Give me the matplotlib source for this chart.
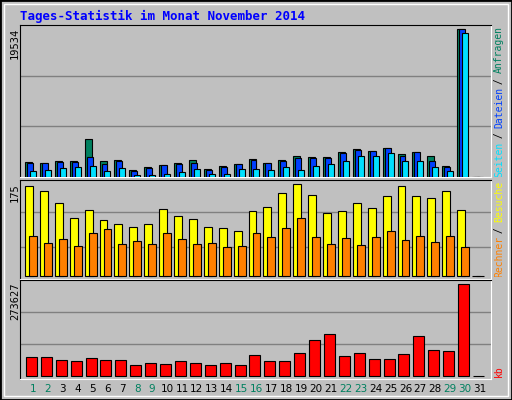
import matplotlib
matplotlib.use("Agg")
import matplotlib.pyplot as plt
import numpy as np
from matplotlib.patches import Rectangle
from matplotlib.transforms import Bbox, TransformedBbox

days = np.arange(1, 32)
weekend = [1, 2, 8, 9, 15, 16, 22, 23, 29, 30]

# top panel: Anfragen / Dateien / Seiten (days 1-30, day 31 no data)
hits_top = [484, 487, 481, 481, 415, 481, 478, 508, 499, 493, 487, 478, 505, 496, 490,
            475, 487, 478, 466, 469, 469, 454, 445, 451, 442, 460, 454, 466, 496, 88]
files_top = [487, 487, 484, 484, 469, 490, 481, 511, 502, 493, 490, 487, 508, 499, 490,
             478, 487, 481, 472, 472, 472, 457, 448, 451, 442, 466, 454, 481, 499, 88]
pages_top = [511, 508, 502, 499, 496, 511, 502, 523, 523, 520, 514, 505, 520, 520, 505,
             505, 508, 499, 508, 496, 490, 481, 466, 466, 457, 481, 481, 499, 511, 100]
hits = [round((530 - t) / 442 * 19534) for t in hits_top] + [0]
files = [round((530 - t) / 442 * 19534) for t in files_top] + [0]
pages = [round((530 - t) / 442 * 19534) for t in pages_top] + [0]

visits = [164, 155, 133, 106, 120, 102, 95, 90, 95, 122, 109, 104, 90, 88, 82,
          119, 126, 151, 168, 148, 115, 119, 133, 124, 145, 164, 145, 142, 155, 120, 0]
hosts = [73, 61, 68, 55, 79, 86, 59, 64, 59, 79, 68, 59, 61, 53, 55,
         79, 71, 88, 106, 71, 59, 70, 57, 71, 82, 66, 73, 62, 73, 53, 0]
kbytes = [57900, 57900, 48900, 45900, 54900, 48900, 48900, 34000, 39900, 36900,
          45900, 39900, 34000, 39900, 34000, 63900, 45900, 45900, 69900, 108800,
          123800, 60900, 69900, 51900, 51900, 66900, 117800, 78900, 75900, 273627, 0]

W, H = 512, 400
fig = plt.figure(figsize=(W / 100, H / 100), dpi=100, facecolor="#C0C0C0")
fig.patches.append(Rectangle((0, 0), 1, 1, transform=fig.transFigure, fill=False,
                             ec="black", lw=2))
fig.patches.append(Rectangle((4 / W, 4 / H), 1 - 8 / W, 1 - 8 / H, transform=fig.transFigure,
                             fill=False, ec="white", lw=1))


def mkax(y0, y1):
    ax = fig.add_axes([20 / W, 1 - y1 / H, 471 / W, (y1 - y0) / H], facecolor="#C0C0C0")
    ax.set_xlim(0.13, 31.74)
    ax.set_xticks([])
    ax.set_yticks([])
    for s in ("left", "top"):
        ax.spines[s].set_color("black")
    for s in ("right", "bottom"):
        ax.spines[s].set_color("white")
    return ax


mono = "DejaVu Sans Mono"
kw = dict(align="edge", ec="black", lw=0.8, zorder=3)

ax1 = mkax(25, 177)
ymax1 = 19534 * (530 - 75) / 442
ax1.set_ylim(0, ymax1)
for g in (1 / 3, 2 / 3):
    ax1.axhline(ymax1 * g, color="#808080", lw=1, zorder=1)
ax1.bar(days - 0.53, hits, 0.47, color="#00805F", **kw)
ax1.bar(days - 0.40, files, 0.40, color="#0040FF", **kw)
ax1.bar(days - 0.20, pages, 0.40, color="#00E0FF", **kw)

ax2 = mkax(180, 279)
ax2.set_ylim(-5, 175)
for g in (175 / 3 - 5, 2 * 175 / 3):
    ax2.axhline(g, color="#808080", lw=1, zorder=1)
ax2.bar(days - 0.53, visits, 0.53, color="#FFFF00", **kw)
ax2.bar(days - 0.26, hosts, 0.53, color="#FF8000", **kw)

ax3 = mkax(280, 379)
ymax3 = 273627 * (602 - 316) / (602 - 328)
ax3.set_ylim(-ymax3 * 0.03, ymax3)
for g in (1 / 3, 2 / 3):
    ax3.axhline(ymax3 * g, color="#808080", lw=1, zorder=1)
ax3.bar(days - 0.47, kbytes, 0.74, color="#FF0000", **kw)

fig.text(20 / W, 1 - 16 / H, "Tages-Statistik im Monat November 2014", family=mono,
         weight="bold", color="#0000FF", fontsize=9, va="center")
for y, lab in ((25, "19534"), (180, "175"), (280, "273627")):
    fig.text(15 / W, 1 - (y + 3) / H, lab, rotation=90, ha="center", va="top",
             fontsize=7.5, family=mono)


# right-hand legends, clipped to their panel's height
def vlegend(parts, ybot, ytop):
    clip = TransformedBbox(Bbox([[490 / W, 1 - ybot / H], [510 / W, 1 - ytop / H]]),
                           fig.transFigure)
    y = 1 - ybot / H
    for txt, col in parts:
        t = fig.text(499 / W, y, txt, rotation=90, color=col, fontsize=7,
                     family=mono, ha="center", va="bottom")
        t.set_clip_box(clip)
        t.set_clip_on(True)
        y += len(txt) * 5.45 / H


vlegend([("Seiten", "#00E0FF"), (" / ", "#000000"), ("Dateien", "#0040FF"),
         (" / ", "#000000"), ("Anfragen", "#00805F")], 177, 25)
vlegend([("Rechner", "#FF8000"), (" / ", "#000000"), ("Besuche", "#FFFF00"),
         (" / ", "#000000"), ("Seiten", "#00E0FF")], 277, 180)
fig.text(499 / W, 1 - 377 / H, "kb", rotation=90, color="#FF0000", fontsize=7,
         family=mono, ha="center", va="bottom")

for d in days:
    x = 20 + (d - 0.13) * 14.9
    fig.text(x / W, 1 - 389 / H, str(d), ha="center", va="center", fontsize=7.5,
             color="#00805F" if d in weekend else "black")

fig.savefig("out.png", dpi=100, facecolor=fig.get_facecolor())
